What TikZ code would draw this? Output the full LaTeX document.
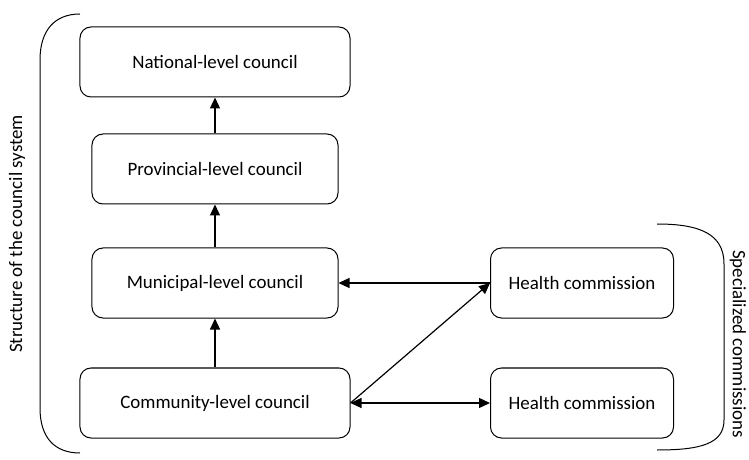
\documentclass[tikz,border=0pt]{standalone}
\usepackage{fontspec}
\setmainfont{Carlito}
\usetikzlibrary{arrows.meta}

\begin{document}
\begin{tikzpicture}[x=1bp, y=-1bp, >={Triangle[length=11bp, width=10bp]},
  council/.style={draw, line width=1bp, rounded corners=11bp,
    minimum height=70bp, font=\fontsize{19}{22}\selectfont},
  link/.style={line width=1.2bp},
  brace/.style={line width=1bp},
  side/.style={font=\fontsize{19}{22}\selectfont}]
  \useasboundingbox (0,0) rectangle (749,460);

  % council levels
  \node[council, minimum width=270bp] (nat) at (215,62) {National-level council};
  \node[council, minimum width=246bp] (prov) at (215,169) {Provincial-level council};
  \node[council, minimum width=246bp] (mun) at (215,283) {Municipal-level council};
  \node[council, minimum width=270bp] (com) at (215,403) {Community-level council};

  % specialized commissions
  \node[council, minimum width=183bp] (hc1) at (582,283) {Health commission};
  \node[council, minimum width=183bp] (hc2) at (582,403) {Health commission};

  % connectors
  \draw[link, ->] (prov.north) -- (nat.south);
  \draw[link, ->] (mun.north) -- (prov.south);
  \draw[link, ->] (com.north) -- (mun.south);
  \draw[link, ->] (hc1.west) -- (mun.east);
  \draw[link, ->] (com.east) -- (hc1.west);
  \draw[link, <->] (com.east) -- (hc2.west);

  % brackets
  \draw[brace] (80,14) .. controls (55,14) and (40,30) .. (40,60)
    -- (40,408) .. controls (40,438) and (55,453) .. (80,453);
  \draw[brace] (657,224) .. controls (700,224) and (724,234) .. (724,264)
    -- (724,420) .. controls (724,444) and (700,450) .. (657,450);

  \node[side, rotate=90] (struct) at (17,234) {Structure of the council system};
  \node[side, rotate=-90] (spec) at (738,344) {Specialized commissions};
\end{tikzpicture}
\end{document}
